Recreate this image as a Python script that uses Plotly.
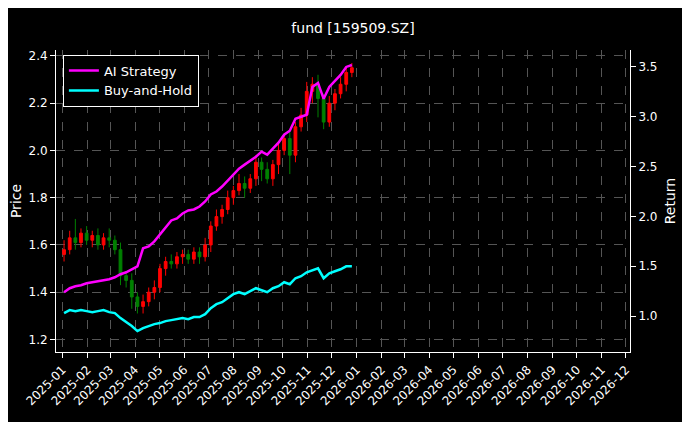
import pandas as pd
import plotly.graph_objects as go

# weekly candles (Fridays)
dates = pd.date_range("2025-01-03", periods=52, freq="W-FRI")
close = [1.58, 1.63, 1.61, 1.65,
         1.62, 1.64, 1.60, 1.63,
         1.62, 1.58, 1.47, 1.45,
         1.38, 1.34, 1.36, 1.40,
         1.42, 1.50, 1.53, 1.52, 1.55,
         1.56, 1.54, 1.57, 1.55,
         1.60, 1.68, 1.72, 1.75,
         1.80, 1.83, 1.86, 1.84, 1.88,
         1.95, 1.92, 1.88, 1.94,
         2.00, 2.05, 1.98, 2.10, 2.15,
         2.25, 2.28, 2.22, 2.12, 2.20,
         2.24, 2.28, 2.33, 2.35]
open_ = [1.56] + close[:-1]
wick_hi = [0.04, 0.03, 0.08, 0.02, 0.03, 0.02, 0.03, 0.02, 0.04, 0.02, 0.03, 0.02,
           0.03, 0.02, 0.03, 0.02, 0.03, 0.02, 0.02, 0.03, 0.02, 0.02, 0.02, 0.02,
           0.02, 0.03, 0.02, 0.03, 0.02, 0.03, 0.02, 0.04, 0.03, 0.02, 0.03, 0.02,
           0.03, 0.02, 0.03, 0.02, 0.03, 0.02, 0.03, 0.04, 0.03, 0.04, 0.02, 0.03,
           0.02, 0.03, 0.02, 0.02]
wick_lo = [0.03, 0.02, 0.03, 0.02, 0.02, 0.03, 0.02, 0.02, 0.03, 0.02, 0.04, 0.03,
           0.05, 0.03, 0.03, 0.02, 0.03, 0.02, 0.03, 0.02, 0.02, 0.03, 0.02, 0.02,
           0.03, 0.02, 0.03, 0.02, 0.03, 0.02, 0.03, 0.02, 0.04, 0.02, 0.03, 0.05,
           0.02, 0.03, 0.04, 0.02, 0.08, 0.03, 0.02, 0.03, 0.05, 0.08, 0.03, 0.02,
           0.03, 0.02, 0.03, 0.02]
high = [max(o, c) + w for o, c, w in zip(open_, close, wick_hi)]
low = [min(o, c) - w for o, c, w in zip(open_, close, wick_lo)]

ai_ret = [1.24, 1.28, 1.30, 1.31,
          1.33, 1.34, 1.35, 1.36,
          1.37, 1.39, 1.42, 1.44,
          1.47, 1.50, 1.68, 1.70,
          1.75, 1.82, 1.90, 1.96, 1.98,
          2.03, 2.06, 2.07, 2.10,
          2.15, 2.22, 2.25, 2.30,
          2.36, 2.42, 2.48, 2.52, 2.56,
          2.60, 2.65, 2.62, 2.68,
          2.74, 2.82, 2.86, 2.98, 3.00,
          3.02, 3.30, 3.34, 3.18, 3.30,
          3.36, 3.42, 3.50, 3.52]
bh_ret = [1.03, 1.06, 1.05, 1.06,
          1.05, 1.04, 1.05, 1.06,
          1.04, 1.03, 0.98, 0.94,
          0.90, 0.85, 0.88, 0.90,
          0.92, 0.93, 0.95, 0.96, 0.97,
          0.98, 0.97, 0.99, 0.99,
          1.02, 1.08, 1.12, 1.14,
          1.18, 1.22, 1.24, 1.22, 1.25,
          1.28, 1.26, 1.24, 1.28,
          1.30, 1.34, 1.32, 1.38, 1.40,
          1.44, 1.46, 1.48, 1.38, 1.43,
          1.45, 1.47, 1.50, 1.50]

fig = go.Figure()
fig.add_trace(go.Candlestick(x=dates, open=open_, high=high, low=low, close=close,
                             increasing=dict(line=dict(color="red", width=1), fillcolor="red"),
                             decreasing=dict(line=dict(color="green", width=1), fillcolor="green"),
                             whiskerwidth=0, showlegend=False))
fig.add_trace(go.Scatter(x=dates, y=ai_ret, name="AI Strategy", yaxis="y2",
                         line=dict(color="#ff00ff", width=2.5)))
fig.add_trace(go.Scatter(x=dates, y=bh_ret, name="Buy-and-Hold", yaxis="y2",
                         line=dict(color="#00ffff", width=2.5)))

grid = dict(showgrid=True, gridcolor="#555", griddash="dash", gridwidth=0.5,
            showline=True, linecolor="white", mirror=False, ticks="outside",
            tickcolor="white", zeroline=False, automargin=False)
fig.update_layout(
    width=690, height=422, paper_bgcolor="black", plot_bgcolor="black",
    font=dict(family="DejaVu Sans", color="white", size=12),
    title=dict(text="fund [159509.SZ]", x=0.5, y=0.965, font=dict(size=14)),
    margin=dict(l=48, r=68, t=42, b=78),
    xaxis=dict(**grid, type="date", range=["2024-12-24", "2026-12-06"],
               dtick="M1", tick0="2025-01-01", tickformat="%Y-%m", tickangle=-45,
               rangeslider=dict(visible=False)),
    yaxis=dict(**grid, title=dict(text="Price", standoff=8), range=[1.147, 2.425],
               dtick=0.2, tickformat=".1f"),
    yaxis2=dict(showline=True, linecolor="white", ticks="outside", tickcolor="white",
                overlaying="y", side="right", automargin=False,
                title=dict(text="Return", standoff=8), range=[0.64, 3.67],
                dtick=0.5, tickformat=".1f", showgrid=False, zeroline=False),
    legend=dict(x=0.012, y=0.985, xanchor="left", yanchor="top", bgcolor="black",
                bordercolor="white", borderwidth=1, font=dict(size=13)),
)
fig.write_html("out.html")
